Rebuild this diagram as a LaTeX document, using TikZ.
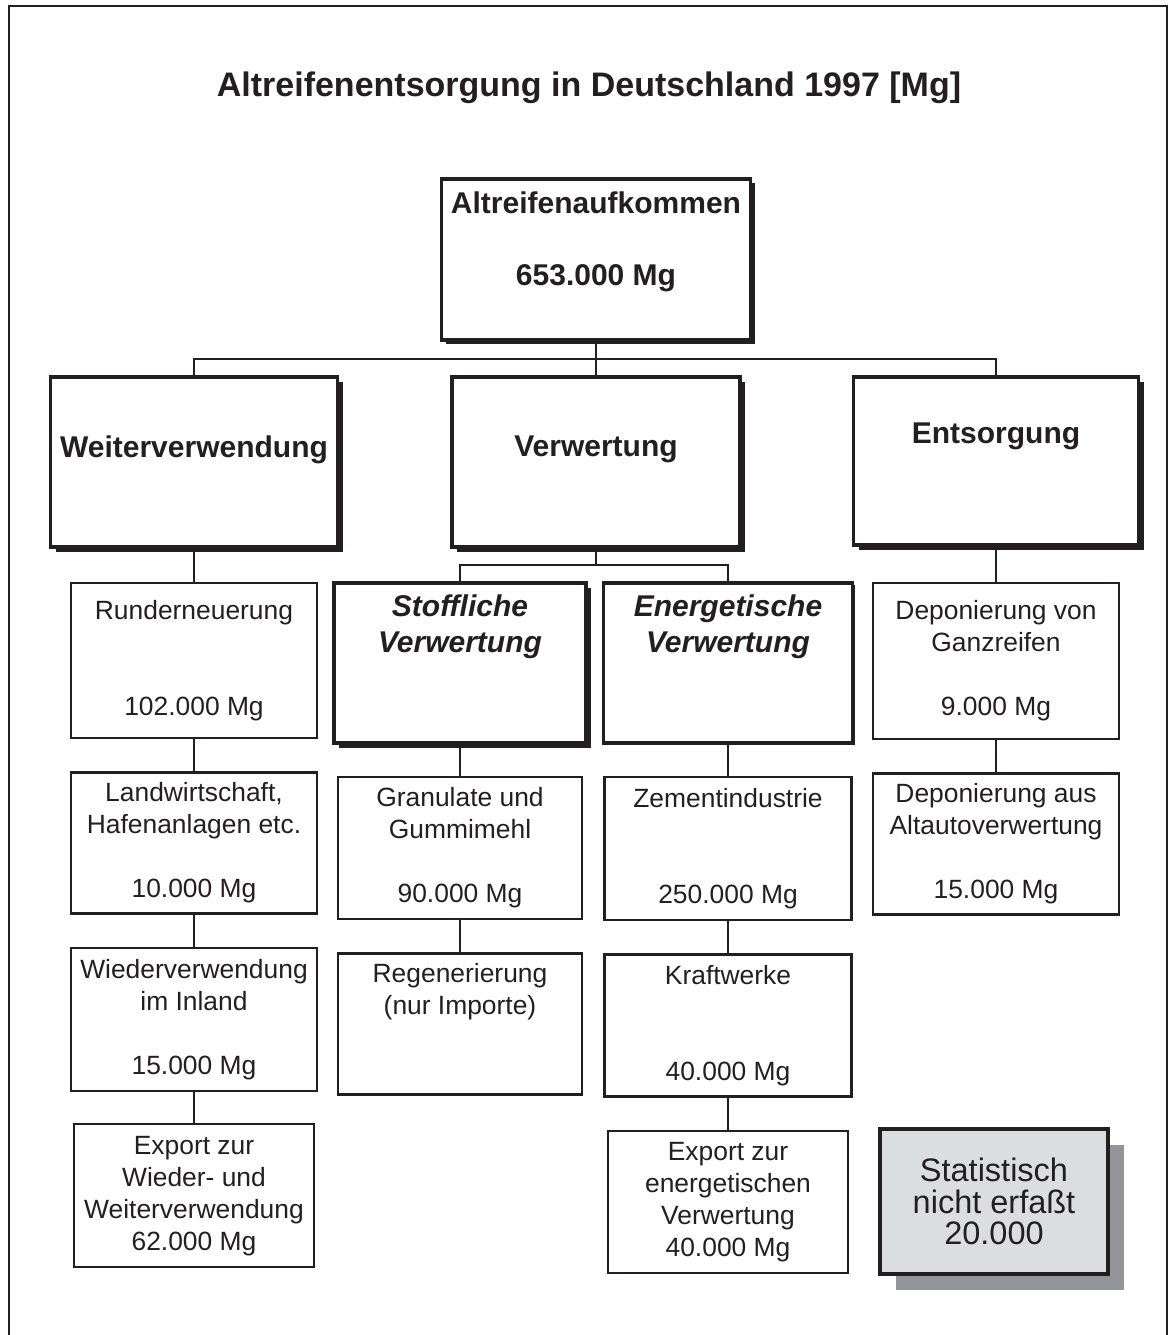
\documentclass[tikz,border=0pt]{standalone}
\usepackage{fontspec}
\setmainfont{Liberation Sans}
\usepackage{xcolor}
\usepackage{tikz}
\usetikzlibrary{positioning, calc, shadows}

\definecolor{ink}{HTML}{231F20}
\definecolor{statgray}{HTML}{DCDDDF}
\definecolor{statshade}{HTML}{939598}

\begin{document}
\begin{tikzpicture}[
    x=1pt, y=-1pt,
    node distance=32pt,
    darkshadow/.style={drop shadow={shadow xshift=#1, shadow yshift=-#1, fill=ink, opacity=1}},
    mainbox/.style={rectangle, draw=ink, line width=3.6pt, fill=white, text=ink, align=center, inner sep=0pt, font=\bfseries\fontsize{30}{36}\selectfont},
    subbox/.style={mainbox, font=\bfseries\itshape\fontsize{30}{36}\selectfont, minimum height=160pt},
    item/.style={rectangle, draw=ink, line width=2.4pt, fill=white, text=ink, align=center, inner sep=0pt, minimum width=246pt, minimum height=142pt, font=\fontsize{26.4}{32}\selectfont},
    link/.style={draw=ink, line width=2pt}
  ]
  \useasboundingbox (0,0) rectangle (1175,1335);
  \draw[ink, line width=2pt] (9,1345) |- (1167,6) -- (1167,1345);

  \node[text=ink, font=\bfseries\fontsize{34}{40}\selectfont] (title) at (589,88) {Altreifenentsorgung in Deutschland 1997 [Mg]};

  \node[mainbox, darkshadow=4pt, minimum width=309pt, minimum height=161pt] (total) at (596,259.5) {Altreifenaufkommen\\[36pt]653.000 Mg\\[6pt]\mbox{}};

  \node[mainbox, darkshadow=5pt, minimum width=287pt, minimum height=170pt] (weiter) at (194,462) {Weiterverwendung\\[-5pt]\mbox{}};
  \node[mainbox, darkshadow=5pt, minimum width=288pt, minimum height=170pt] (verw) at (596,462) {Verwertung\\[-5pt]\mbox{}};
  \node[mainbox, darkshadow=5pt, minimum width=285pt, minimum height=168pt] (entsorg) at (996,461) {Entsorgung\\[20pt]\mbox{}};

  \node[subbox, darkshadow=5pt, minimum width=252pt] (stoff) at (460,663) {Stoffliche\\Verwertung\\[43pt]\mbox{}};
  \node[subbox, darkshadow=2pt, minimum width=249pt] (energ) at (728,663) {Energetische\\Verwertung\\[43pt]\mbox{}};

  % Weiterverwendung
  \node[item, minimum height=155pt] (rund) at (194,660.5) {Runderneuerung\\[64pt]102.000 Mg};
  \node[item, minimum height=141pt, below=of rund] (landw) {Landwirtschaft,\\Hafenanlagen etc.\\[32pt]10.000 Mg};
  \node[item, minimum height=143pt, below=of landw] (wieder) {Wiederverwendung\\im Inland\\[32pt]15.000 Mg};
  \node[item, minimum width=240pt, minimum height=143pt, below=31pt of wieder] (exportw) {Export zur\\Wieder- und\\Weiterverwendung\\62.000 Mg};

  % Verwertung
  \node[item, minimum width=244pt, below=31pt of stoff] (gran) {Granulate und\\Gummimehl\\[32pt]90.000 Mg};
  \node[item, minimum width=244pt, minimum height=141pt, below=of gran] (regen) {Regenerierung\\(nur Importe)\\[37pt]\mbox{}};
  \node[item, minimum width=247pt, minimum height=143pt, below=31pt of energ] (zement) {Zementindustrie\\[64pt]250.000 Mg};
  \node[item, minimum width=247pt, below=of zement] (kraft) {Kraftwerke\\[64pt]40.000 Mg};
  \node[item, minimum width=240pt, below=of kraft] (exporte) {Export zur\\energetischen\\Verwertung\\40.000 Mg};

  % Entsorgung
  \node[item, minimum height=156pt] (depvon) at (996,661) {Deponierung von\\Ganzreifen\\[32pt]9.000 Mg};
  \node[item, minimum height=141pt, below=of depvon] (depaus) {Deponierung aus\\Altautoverwertung\\[32pt]15.000 Mg};

  \node[item, line width=3.6pt, fill=statgray, minimum width=228pt, minimum height=145pt, font=\fontsize{32.5}{31.5}\selectfont,
    drop shadow={shadow xshift=16pt, shadow yshift=-16pt, fill=statshade, opacity=1}] (stat) at (994,1201.5) {Statistisch\\nicht erfaßt\\20.000};

  % connectors
  \coordinate (bus) at ($(total.south)!0.5!(verw.north)$);
  \draw[link] (total.south) -- (verw.north);
  \draw[link] (weiter.north) |- (bus) -| (entsorg.north);
  \coordinate (vbus) at ($(verw.south)!0.5!(verw.south |- stoff.north)$);
  \draw[link] (verw.south) -- (vbus);
  \draw[link] (stoff.north) |- (vbus) -| (energ.north);
  \foreach \a/\b in {weiter/rund, rund/landw, landw/wieder, wieder/exportw, stoff/gran, gran/regen, energ/zement, zement/kraft, kraft/exporte, entsorg/depvon, depvon/depaus}
    \draw[link] (\a.south) -- (\b.north);
\end{tikzpicture}
\end{document}
